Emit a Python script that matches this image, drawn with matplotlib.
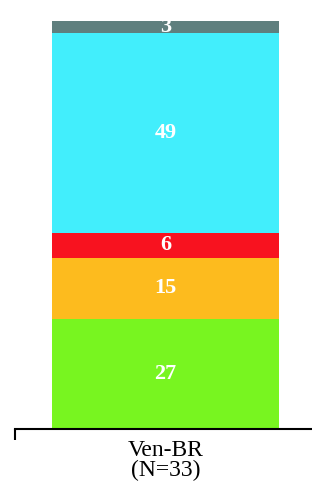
import matplotlib
matplotlib.use("Agg")
import matplotlib.pyplot as plt

category = ["Ven-BR\n(N=33)"]
segment_values = [27, 15, 6, 49, 3]
segment_colors = ["#78f520", "#fdbb1e", "#f8121f", "#42eefc", "#5f7f7e"]

fig = plt.figure(figsize=(3.12, 4.87), dpi=100)
ax = fig.add_axes([15/312, 1 - 429/487, 297/312, 408/487])

bottom = 0
for v, c in zip(segment_values, segment_colors):
    ax.bar(0, v, width=1.0, bottom=bottom, color=c, edgecolor="none")
    ax.text(0, bottom + v / 2, str(v), ha="center", va="center",
            color="white", fontsize=16, fontweight="bold", family="Liberation Serif")
    bottom += v

ax.set_ylim(0, 100)
ax.set_xlim((15 - 165.5) / 227, (312 - 165.5) / 227)
for s in ["top", "right", "left"]:
    ax.spines[s].set_visible(False)
ax.spines["bottom"].set_linewidth(1.5)
ax.set_yticks([])
ax.set_xticks([0])
ax.set_xticklabels(category, family="Liberation Serif", fontsize=17, linespacing=0.9)
ax.tick_params(axis="x", length=0, pad=8)
ax.set_xticks([ax.get_xlim()[0]], minor=True)
ax.tick_params(axis="x", which="minor", length=8, width=1.5, direction="out")

fig.savefig("out.png", dpi=100)
